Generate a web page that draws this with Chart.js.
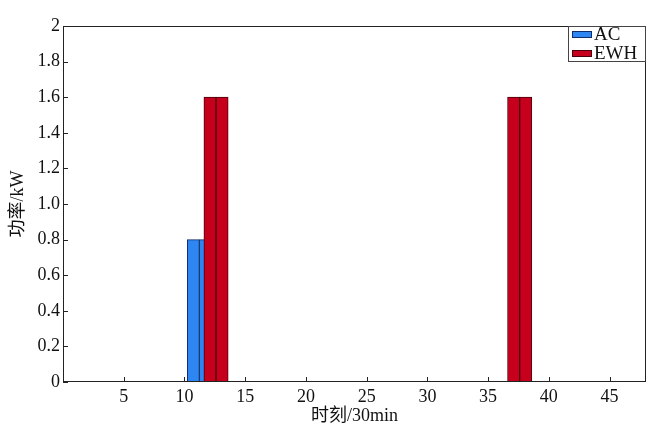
<!DOCTYPE html>
<html>
<head>
<meta charset="utf-8">
<script src="https://cdn.jsdelivr.net/npm/chart.js@4.4.1/dist/chart.umd.min.js"></script>
<style>
  html, body { margin: 0; background: #fff; }
  #wrap { width: 653px; height: 427px; }
</style>
</head>
<body>
<div id="wrap"><canvas id="powerChart"></canvas></div>
<script>
// time slots (30 min each) where each load runs, and its power in kW
const acSlots = [11, 12];
const acPower = [0.8, 0.8];
const ewhSlots = [12, 13, 37, 38];
const ewhPower = [1.6, 1.6, 1.6, 1.6];

const xTicks = [5, 10, 15, 20, 25, 30, 35, 40, 45];
const yTicks = [0, 0.2, 0.4, 0.6, 0.8, 1.0, 1.2, 1.4, 1.6, 1.8, 2];
const yTickLabels = ['0', '0.2', '0.4', '0.6', '0.8', '1.0', '1.2', '1.4', '1.6', '1.8', '2'];

const serif = '"Liberation Serif", "Times New Roman", "Noto Sans CJK SC", serif';

function points(xs, ys) {
  return xs.map((x, i) => ({x: x, y: ys[i]}));
}

// MATLAB-like frame: box, inward ticks, framed legend in the corner
const matlabFrame = {
  id: 'matlabFrame',
  afterDatasetsDraw(chart) {
    const {ctx, chartArea: a, scales} = chart;
    ctx.save();
    ctx.strokeStyle = '#222';
    ctx.lineWidth = 1;
    ctx.strokeRect(a.left + 0.5, a.top + 0.5, a.right - a.left - 1, a.bottom - a.top - 1);
    ctx.beginPath();
    xTicks.forEach(v => {
      const px = Math.round(scales.x.getPixelForValue(v)) + 0.5;
      ctx.moveTo(px, a.bottom);
      ctx.lineTo(px, a.bottom - 5);
    });
    yTicks.forEach(v => {
      const py = Math.round(scales.y.getPixelForValue(v)) + 0.5;
      ctx.moveTo(a.left, py);
      ctx.lineTo(a.left + 5, py);
    });
    ctx.stroke();

    // legend
    const lw = 78, lh = 36;
    const lx = a.right - lw, ly = a.top;
    ctx.fillStyle = '#fff';
    ctx.fillRect(lx, ly, lw, lh);
    ctx.strokeStyle = '#444';
    ctx.strokeRect(lx + 0.5, ly + 0.5, lw - 1, lh - 1);
    ctx.font = '19px ' + serif;
    ctx.textBaseline = 'middle';
    chart.data.datasets.forEach((ds, i) => {
      const cy = ly + 8 + i * 19;
      ctx.fillStyle = ds.backgroundColor;
      ctx.fillRect(lx + 4, cy - 3, 20, 7);
      ctx.strokeStyle = ds.borderColor;
      ctx.strokeRect(lx + 4.5, cy - 2.5, 19, 6);
      ctx.fillStyle = '#111';
      ctx.fillText(ds.label, lx + 26, cy + 1);
    });
    ctx.restore();
  }
};

function initChart() {
  const ctx = document.getElementById('powerChart');
  new Chart(ctx, {
    type: 'bar',
    data: {
      datasets: [{
        label: 'AC',
        data: points(acSlots, acPower),
        xAxisID: 'xa',
        backgroundColor: '#2d86f2',
        borderColor: '#0f2c6a',
        borderWidth: 1,
        order: 1
      }, {
        label: 'EWH',
        data: points(ewhSlots, ewhPower),
        xAxisID: 'xe',
        backgroundColor: '#c6001c',
        borderColor: '#4a000c',
        borderWidth: 1,
        order: 0
      }]
    },
    options: {
      responsive: true,
      maintainAspectRatio: false,
      animation: false,
      grouped: false,
      barPercentage: 1,
      categoryPercentage: 1,
      layout: {padding: {top: 26, right: 7, left: 0, bottom: 0}},
      plugins: {legend: {display: false}, tooltip: {enabled: false}},
      scales: {
        x: {
          type: 'linear',
          min: 0,
          max: 48,
          offset: false,
          afterBuildTicks: s => { s.ticks = xTicks.map(v => ({value: v})); },
          afterFit: s => { s.height = 45; },
          grid: {display: false, drawTicks: false, offset: false},
          border: {display: false},
          ticks: {color: '#111', padding: 4, font: {family: serif, size: 18}},
          title: {display: true, text: '时刻/30min', color: '#111', padding: {top: 3, bottom: 0},
                  font: {family: serif, size: 18}}
        },
        xa: {type: 'linear', display: false, offset: false, grid: {offset: false}, min: 0.27, max: 48.27,
             afterBuildTicks: s => { s.ticks = xTicks.map(v => ({value: v})); }},
        xe: {type: 'linear', display: false, offset: false, grid: {offset: false}, min: -0.1, max: 47.9,
             afterBuildTicks: s => { s.ticks = xTicks.map(v => ({value: v})); }},
        y: {
          min: 0,
          max: 2,
          afterBuildTicks: s => { s.ticks = yTicks.map(v => ({value: v})); },
          afterFit: s => { s.width = 63; },
          grid: {display: false, drawTicks: false},
          border: {display: false},
          ticks: {
            color: '#111',
            padding: 3,
            font: {family: serif, size: 18},
            callback: (v, i) => yTickLabels[i]
          },
          title: {display: true, text: '功率/kW', color: '#111', padding: {top: 7, bottom: 0},
                  font: {family: serif, size: 18}}
        }
      }
    },
    plugins: [matlabFrame]
  });
}

document.addEventListener('DOMContentLoaded', initChart);
</script>
</body>
</html>
